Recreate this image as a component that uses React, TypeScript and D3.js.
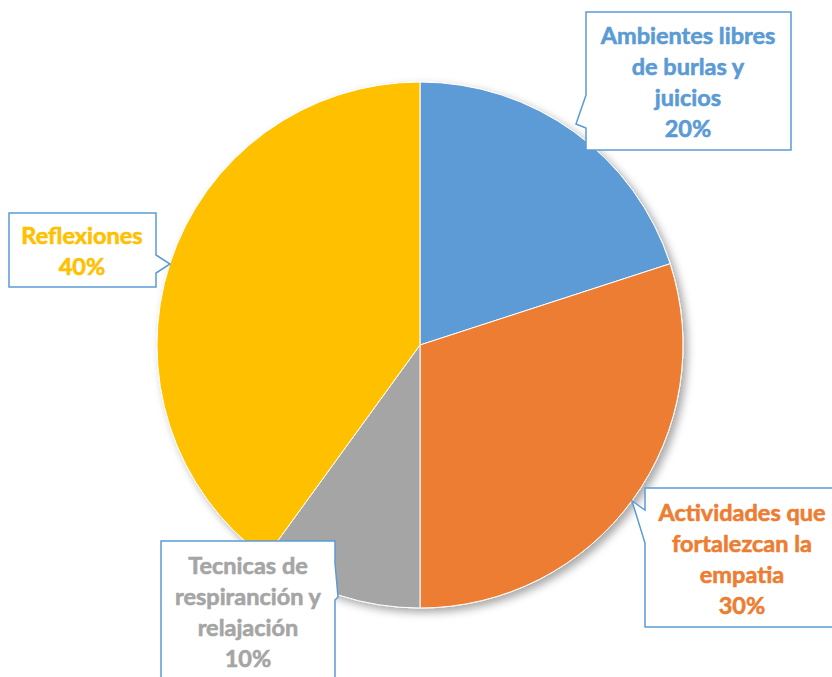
import React from 'react';
import * as d3 from 'd3';

// data
const categories = [
  'Ambientes libres de burlas y juicios',
  'Actividades que fortalezcan la empatia',
  'Tecnicas de respiranción y relajación',
  'Reflexiones',
];
const values = [20, 30, 10, 40];
const colors = ['#5B9BD5', '#ED7D31', '#A5A5A5', '#FFC000'];
const labelLines = [
  ['Ambientes libres', 'de burlas y', 'juicios'],
  ['Actividades que', 'fortalezcan la', 'empatia'],
  ['Tecnicas de', 'respiranción y', 'relajación'],
  ['Reflexiones'],
];

// callout boxes (layout only)
const callouts = [
  { cx: 688, y0: 44, path: 'M586,12 H791 V150 H586 V128 L576,124 L586,95 Z' },
  { cx: 742, y0: 521, path: 'M645,488 H845 V627 H645 V543 L632,501 L645,510 Z' },
  { cx: 248, y0: 574, path: 'M161,541 H335 V563 L338,597 L335,600 V700 H161 Z' },
  { cx: 82, y0: 244, path: 'M9,213 H156 V255 L170,264 L156,273 V287 H9 Z' },
];

const W = 832;
const H = 677;
const cx = 420;
const cy = 345;
const R = 263;
const lineH = 31;

const App = () => {
  const pie = d3.pie<number>().sort(null).value(d => d)(values);
  const arc = d3.arc<d3.PieArcDatum<number>>().innerRadius(0).outerRadius(R);
  const total = d3.sum(values);

  return (
    <svg width={W} height={H} style={{ position: 'absolute', left: 0, top: 0, background: '#fff' }}
      fontFamily="Lato, 'Open Sans', sans-serif">
      <defs>
        <filter id="shadow" x="-20%" y="-20%" width="140%" height="140%">
          <feDropShadow dx="4" dy="4" stdDeviation="4" floodColor="#000" floodOpacity="0.35" />
        </filter>
      </defs>
      <g transform={`translate(${cx},${cy})`} filter="url(#shadow)">
        {pie.map((d, i) => (
          <path key={categories[i]} d={arc(d) || ''} fill={colors[i]} stroke="#fff" strokeWidth={1} />
        ))}
      </g>
      {callouts.map((c, i) => {
        const lines = [...labelLines[i], d3.format('.0%')(values[i] / total)];
        return (
          <g key={categories[i]}>
            <path d={c.path} fill="#fff" stroke="#5B9BD5" strokeWidth={1.5} strokeLinejoin="miter" />
            <text textAnchor="middle" fill={colors[i]} stroke={colors[i]} strokeWidth={0.6}
              fontWeight="bold" fontSize={23.5}>
              {lines.map((t, j) => (
                <tspan key={j} x={c.cx} y={c.y0 + j * lineH}>{t}</tspan>
              ))}
            </text>
          </g>
        );
      })}
    </svg>
  );
};

export default App;
